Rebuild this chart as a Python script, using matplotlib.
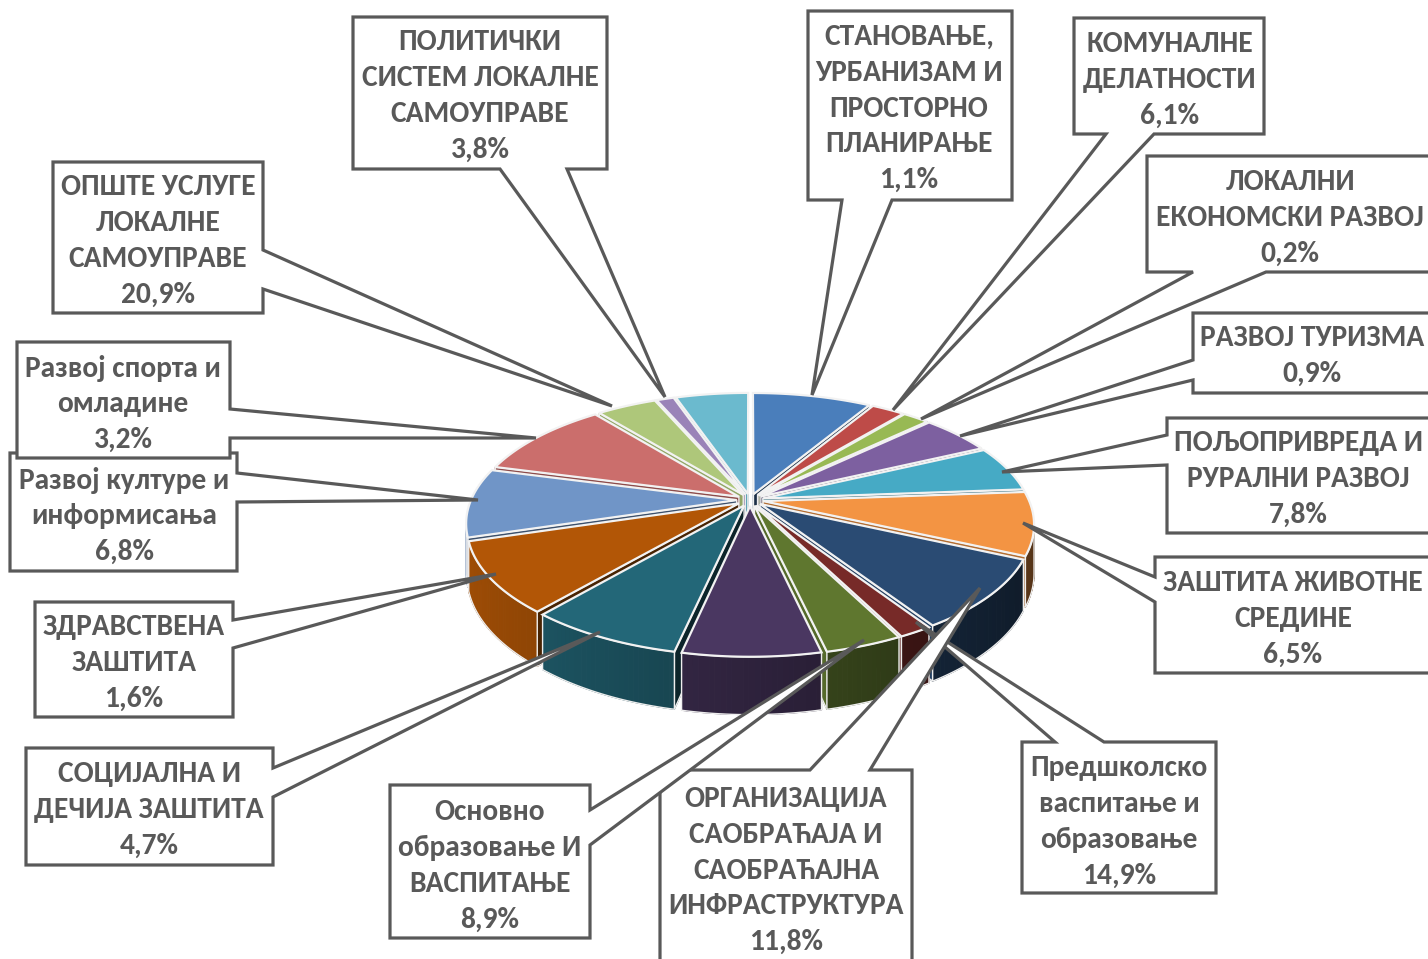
import numpy as np
import matplotlib
matplotlib.use('Agg')
import matplotlib.pyplot as plt
from matplotlib.patches import Polygon
import matplotlib.colors as mcolors
from matplotlib import font_manager as fm
from matplotlib.ft2font import FT2Font
from matplotlib.textpath import TextPath

# ---------------- data ----------------
# visual slice sizes (percent), clockwise from 12 o'clock
slice_shares = [8.5, 2.4, 1.9, 5.1, 5.9, 8.1, 9.0, 1.7, 3.9, 6.9, 7.8,
                9.1, 8.9, 10.1, 4.3, 1.25, 5.2]
slice_colors = ['#4A7EBB', '#BE4B48', '#98B954', '#7D60A0', '#46AAC5', '#F39443',
                '#2A4B73', '#772A28', '#5F772F', '#4A3761', '#236778', '#B25606',
                '#7095C7', '#CB6E6C', '#AEC77A', '#9A83B8', '#6BBACE']

label_lines = [
    ['ПОЛИТИЧКИ', 'СИСТЕМ ЛОКАЛНЕ', 'САМОУПРАВЕ', '3,8%'],
    ['СТАНОВАЊЕ,', 'УРБАНИЗАМ И', 'ПРОСТОРНО', 'ПЛАНИРАЊЕ', '1,1%'],
    ['КОМУНАЛНЕ', 'ДЕЛАТНОСТИ', '6,1%'],
    ['ЛОКАЛНИ', 'ЕКОНОМСКИ РАЗВОЈ', '0,2%'],
    ['РАЗВОЈ ТУРИЗМА', '0,9%'],
    ['ПОЉОПРИВРЕДА И', 'РУРАЛНИ РАЗВОЈ', '7,8%'],
    ['ЗАШТИТА ЖИВОТНЕ', 'СРЕДИНЕ', '6,5%'],
    ['Предшколско', 'васпитање и', 'образовање', '14,9%'],
    ['ОРГАНИЗАЦИЈА', 'САОБРАЋАЈА И', 'САОБРАЋАЈНА', 'ИНФРАСТРУКТУРА', '11,8%'],
    ['Основно', 'образовање И', 'ВАСПИТАЊЕ', '8,9%'],
    ['СОЦИЈАЛНА И', 'ДЕЧИЈА ЗАШТИТА', '4,7%'],
    ['ЗДРАВСТВЕНА', 'ЗАШТИТА', '1,6%'],
    ['Развој културе и', 'информисања', '6,8%'],
    ['Развој спорта и', 'омладине', '3,2%'],
    ['ОПШТЕ УСЛУГЕ', 'ЛОКАЛНЕ', 'САМОУПРАВЕ', '20,9%'],
]

# ---------------- layout (pixel space) ----------------
callout_boxes = [
    (353, 17, 607, 169), (808, 11, 1012, 200), (1074, 18, 1264, 134),
    (1147, 156, 1440, 272), (1193, 313, 1440, 393), (1167, 418, 1440, 533),
    (1155, 557, 1440, 673), (1022, 742, 1216, 893), (660, 770, 912, 980),
    (390, 785, 590, 938), (26, 748, 273, 865), (35, 602, 233, 717),
    (10, 453, 237, 571), (17, 342, 230, 458), (53, 162, 263, 313),
]
callout_sides = ['bottom', 'bottom', 'bottom', 'bottom', 'left', 'left', 'left',
                 'top', 'top', 'right', 'right', 'right', 'right', 'right', 'right']
callout_bases = [(500, 567), (842, 892), (1106, 1154), (1193, 1266), (360, 380),
                 (435, 465), (577, 602), (1055, 1104), (810, 870), (810, 845),
                 (768, 797), (620, 648), (473, 502), (409, 438), (250, 289)]
callout_tips = [(665, 397), (812, 395), (893, 410), (921, 419), (960, 436),
                (1002, 472), (1023, 523), (916, 622), (980, 588), (864, 640),
                (600, 632), (496, 574), (478, 500), (536, 438), (612, 406)]
text_x = [480, 909, 1170, 1290, 1312, 1298, 1293, 1119, 786, 490, 149, 134, 124, 123, 158]
text_y0 = [42, 37, 44, 182, 338, 443, 583, 768, 799, 812, 774, 627, 480, 368, 187]
LINE_STEP = 35.8
TEXT_COLOR = '#595959'


def pick_font(cands):
    for name in cands:
        try:
            path = fm.findfont(fm.FontProperties(family=name, weight='bold'),
                               fallback_to_default=False)
            f = FT2Font(path)
            if all(f.get_char_index(ord(ch)) for ch in 'ПЉЋЈћљњш'):
                return name
        except Exception:
            continue
    return 'DejaVu Sans'


FONT_NAME = pick_font(['Carlito', 'Fira Sans Condensed', 'Roboto Condensed',
                       'Open Sans Condensed', 'PT Sans Narrow', 'Noto Sans Display',
                       'Roboto', 'Noto Sans'])
FONT = [FONT_NAME, 'DejaVu Sans']
# size the font so that a reference line has the reference width (193 px)
_w = TextPath((0, 0), 'ОПШТЕ УСЛУГЕ', size=100,
              prop=fm.FontProperties(family=FONT, weight='bold')).get_extents().width
FONT_SIZE = float(np.clip(193.0 * 72.0 / _w, 13, 22))

# pie geometry
CX, CY = 750.0, 500.0
EXPL = 0.05
R_X, R_Y, K, T = 279.0 / (1 + EXPL), 127.3 / (1 + EXPL), 0.179, 47.0


def proj(u, v, d):
    p = 1.0 / (1.0 + K * v)
    return (CX + R_X * u * p, CY - R_Y * v * p + T * d * p)


def sarea(pts):
    a = np.asarray(pts)
    x, y = a[:, 0], a[:, 1]
    return np.sum(x * np.roll(y, -1) - np.roll(x, -1) * y)


def shade(col, f):
    r, g, b = mcolors.to_rgb(col)
    f = float(np.clip(f, 0.3, 0.92))
    return (r * f, g * f, b * f)


def light(nu):
    return 0.62 + 0.28 * (-nu)


fig = plt.figure(figsize=(14.28, 9.59), dpi=100)
ax = fig.add_axes([0, 0, 1, 1])
ax.set_xlim(0, 1428)
ax.set_ylim(959, 0)
ax.axis('off')

fr = np.array(slice_shares) / np.sum(slice_shares)
edges = np.concatenate([[0.0], np.cumsum(fr)]) * 360.0

walls = []
tops = []
for i, col in enumerate(slice_colors):
    a1, a2 = edges[i], edges[i + 1]
    mid = np.radians((a1 + a2) / 2)
    ou, ov = EXPL * np.sin(mid), EXPL * np.cos(mid)
    n = max(3, int(a2 - a1) + 2)
    ang = np.radians(np.linspace(a1, a2, n))
    us = ou + np.sin(ang)
    vs = ov + np.cos(ang)
    trim = [proj(u, v, 0) for u, v in zip(us, vs)]
    brim = [proj(u, v, 1) for u, v in zip(us, vs)]
    ctop, cbot = proj(ou, ov, 0), proj(ou, ov, 1)
    tops.append(([ctop] + trim, col))
    vis = [sarea([trim[j], trim[j + 1], brim[j + 1], brim[j]]) < 0 for j in range(n - 1)]
    j = 0
    while j < n - 1:
        if vis[j]:
            k = j
            while k < n - 1 and vis[k]:
                k += 1
            segs = []
            for s in range(j, k):
                phi = (ang[s] + ang[s + 1]) / 2
                segs.append(([trim[s], trim[s + 1], brim[s + 1], brim[s]],
                             shade(col, light(np.sin(phi)))))
            outline = trim[j:k + 1] + brim[j:k + 1][::-1]
            walls.append((np.mean(vs[j:k + 1]), segs, outline))
            j = k
        else:
            j += 1
    ra1, ra2 = np.radians(a1), np.radians(a2)
    w1 = [ctop, trim[0], brim[0], cbot]
    if sarea(w1) < 0:
        walls.append(((ov + vs[0]) / 2, [(w1, shade(col, light(-np.cos(ra1))))], w1))
    w2 = [trim[-1], ctop, cbot, brim[-1]]
    if sarea(w2) < 0:
        walls.append(((ov + vs[-1]) / 2, [(w2, shade(col, light(np.cos(ra2))))], w2))

walls.sort(key=lambda w: -w[0])
for depth, segs, outline in walls:
    for pts, c in segs:
        ax.add_patch(Polygon(pts, closed=True, fc=c, ec=c, lw=0.8, zorder=2))
    ax.add_patch(Polygon(outline, closed=True, fill=False, ec='#EEEEEE', lw=1.0, zorder=2))

for pts, c in tops:
    ax.add_patch(Polygon(pts, closed=True, fc=c, ec='#F2F2F2', lw=1.6, zorder=3))


def callout(box, side, base, tip):
    x0, y0, x1, y1 = box
    b1, b2 = base
    if side == 'bottom':
        pts = [(x0, y0), (x1, y0), (x1, y1), (b2, y1), tip, (b1, y1), (x0, y1)]
    elif side == 'right':
        pts = [(x0, y0), (x1, y0), (x1, b1), tip, (x1, b2), (x1, y1), (x0, y1)]
    elif side == 'left':
        pts = [(x0, y0), (x1, y0), (x1, y1), (x0, y1), (x0, b2), tip, (x0, b1)]
    else:
        pts = [(x0, y0), (b1, y0), tip, (b2, y0), (x1, y0), (x1, y1), (x0, y1)]
    ax.add_patch(Polygon(pts, closed=True, fc='white', ec=TEXT_COLOR, lw=2.3,
                         joinstyle='miter', zorder=10))


for idx, lines in enumerate(label_lines):
    callout(callout_boxes[idx], callout_sides[idx], callout_bases[idx], callout_tips[idx])
    for li, txt in enumerate(lines):
        ax.text(text_x[idx], text_y0[idx] + li * LINE_STEP, txt, ha='center', va='center',
                fontsize=FONT_SIZE, fontweight='bold', color=TEXT_COLOR, family=FONT,
                zorder=11)

fig.savefig('out.png', dpi=100, facecolor='white')
